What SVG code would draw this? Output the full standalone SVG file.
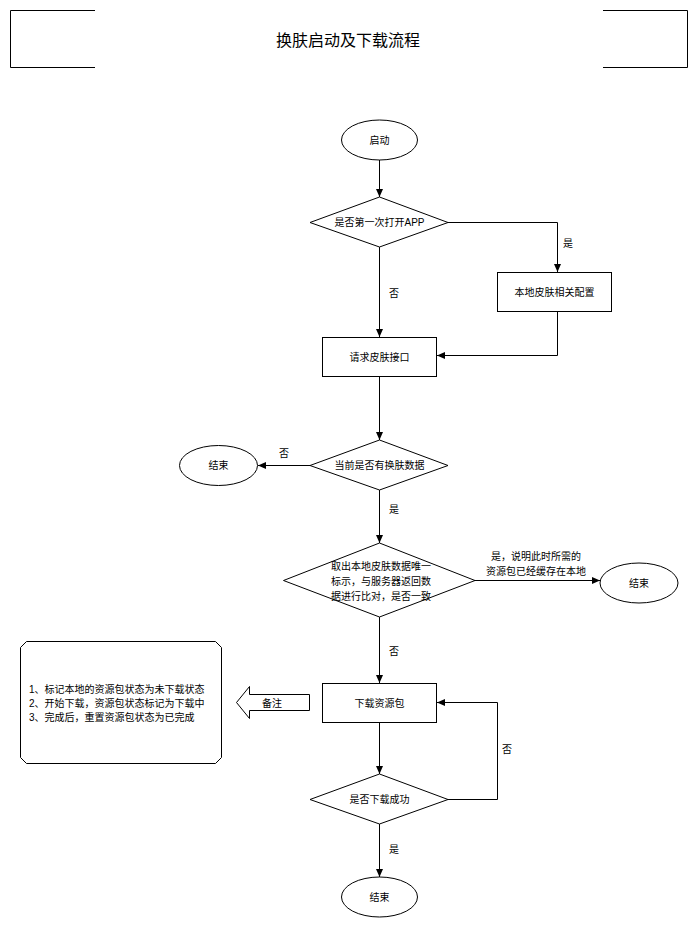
<svg xmlns="http://www.w3.org/2000/svg" width="697" height="926" viewBox="0 0 697 926">
<defs>
<style>
.s{fill:#fff;stroke:#000;stroke-width:1}
.c{fill:none;stroke:#000;stroke-width:1}
text{font-family:"Liberation Sans","Noto Sans CJK SC",sans-serif;font-size:10px;fill:#000}
.m{text-anchor:middle;dominant-baseline:central}
.l{dominant-baseline:central}
</style>
<marker id="a" viewBox="0 0 8 7" refX="8" refY="3.5" markerWidth="8" markerHeight="7" markerUnits="userSpaceOnUse" orient="auto">
<path d="M0,0 L8,3.5 L0,7 z" fill="#000"/>
</marker>
</defs>
<rect width="697" height="926" fill="#fff"/>
<g id="title">
<path class="c" d="M95,10.5 H10.5 V67.5 H95 M603,10.5 H687.5 V67.5 H603"/>
<text class="m" x="348" y="40" style="font-size:16px">换肤启动及下载流程</text>
</g>
<g id="connectors">
<path class="c" d="M379.5,160 V197" marker-end="url(#a)"/>
<path class="c" d="M448,222.5 H557.5 V272" marker-end="url(#a)"/>
<path class="c" d="M379.5,247 V337" marker-end="url(#a)"/>
<path class="c" d="M557.5,311 V355.5 H437" marker-end="url(#a)"/>
<path class="c" d="M379.5,376 V440" marker-end="url(#a)"/>
<path class="c" d="M310,465.5 H258" marker-end="url(#a)"/>
<path class="c" d="M379.5,490 V543" marker-end="url(#a)"/>
<path class="c" d="M475,580.5 H600" marker-end="url(#a)"/>
<path class="c" d="M379.5,617 V683" marker-end="url(#a)"/>
<path class="c" d="M379.5,722 V774" marker-end="url(#a)"/>
<path class="c" d="M448,799.5 H497.5 V702.5 H437" marker-end="url(#a)"/>
<path class="c" d="M379.5,824 V877" marker-end="url(#a)"/>
<text class="m" x="568" y="243">是</text>
<text class="m" x="394" y="293">否</text>
<text class="m" x="284" y="453">否</text>
<text class="m" x="394" y="509">是</text>
<text class="m" x="536" y="556">是，说明此时所需的</text>
<text class="m" x="536" y="571">资源包已经缓存在本地</text>
<text class="m" x="394" y="651">否</text>
<text class="m" x="507" y="749">否</text>
<text class="m" x="394" y="849">是</text>
</g>
<g id="start">
<ellipse class="s" cx="379.5" cy="140" rx="38" ry="20"/>
<text class="m" x="379.5" y="140">启动</text>
</g>
<g id="d1">
<path class="s" d="M379.5,197 L448,222.5 L379.5,247 L310,222.5 Z"/>
<text class="m" x="379.5" y="222">是否第一次打开APP</text>
</g>
<g id="localconf">
<rect class="s" x="497.5" y="272.5" width="114" height="39"/>
<text class="m" x="554.5" y="292">本地皮肤相关配置</text>
</g>
<g id="request">
<rect class="s" x="322.5" y="337.5" width="114" height="39"/>
<text class="m" x="379.5" y="357">请求皮肤接口</text>
</g>
<g id="d2">
<path class="s" d="M379.5,440 L448,465.5 L379.5,490 L310,465.5 Z"/>
<text class="m" x="379.5" y="465">当前是否有换肤数据</text>
</g>
<g id="end1">
<ellipse class="s" cx="218.5" cy="465.5" rx="39" ry="20"/>
<text class="m" x="218.5" y="465.5">结束</text>
</g>
<g id="d3">
<path class="s" d="M379.5,543 L475,580.5 L379.5,617 L283.5,580.5 Z"/>
<text class="l" x="331" y="566">取出本地皮肤数据唯一</text>
<text class="l" x="331" y="581">标示，与服务器返回数</text>
<text class="l" x="331" y="596">据进行比对，是否一致</text>
</g>
<g id="end2">
<ellipse class="s" cx="639" cy="583" rx="39" ry="20"/>
<text class="m" x="639" y="583">结束</text>
</g>
<g id="download">
<rect class="s" x="322.5" y="683.5" width="114" height="39"/>
<text class="m" x="379.5" y="703">下载资源包</text>
</g>
<g id="d4">
<path class="s" d="M379.5,774 L448,799.5 L379.5,824 L310,799.5 Z"/>
<text class="m" x="379.5" y="799">是否下载成功</text>
</g>
<g id="end3">
<ellipse class="s" cx="379.5" cy="897" rx="38" ry="20"/>
<text class="m" x="379.5" y="897">结束</text>
</g>
<g id="remark">
<path class="s" d="M236.5,702.5 L249.5,686.5 V694.5 H309.5 V710.5 H249.5 V718.5 Z"/>
<text class="m" x="272" y="703">备注</text>
</g>
<g id="note">
<path class="s" d="M26.5,641.5 H215.5 L221.5,647.5 V757.5 L215.5,763.5 H26.5 L20.5,757.5 V647.5 Z"/>
<text class="l" x="29" y="689">1、标记本地的资源包状态为未下载状态</text>
<text class="l" x="29" y="703">2、开始下载，资源包状态标记为下载中</text>
<text class="l" x="29" y="717">3、完成后，重置资源包状态为已完成</text>
</g>
</svg>
